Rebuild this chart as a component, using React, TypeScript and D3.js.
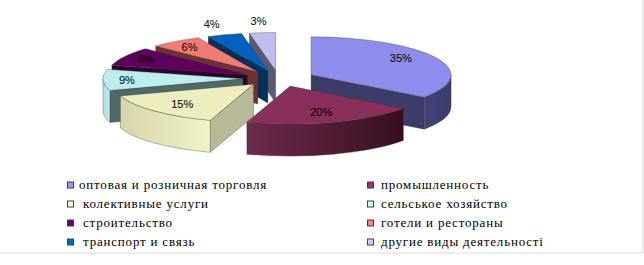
import React from 'react';
import * as d3 from 'd3';

const categories = [
  'оптовая и розничная торговля',
  'промышленность',
  'колективные услуги',
  'сельськое хозяйство',
  'строительство',
  'готели и рестораны',
  'транспорт и связь',
  'другие виды деятельності',
];
const values = [35, 20, 15, 9, 8, 6, 4, 3];
const valueLabels = ['35%', '20%', '15%', '9%', '8%', '6%', '4%', '3%'];

const baseColors = ['#9999FF', '#993366', '#FFFFCC', '#CCFFFF', '#660066', '#FF8080', '#0066CC', '#CCCCFF'];
const topColors = ['#8d8ded', '#8a2e5c', '#ededbd', '#bdeded', '#5c005c', '#f07a74', '#0060c0', '#bdbdef'];
const sideLeft = ['#42427a', '#6e2a4c', '#d6d6a8', '#ade0e0', '#3a003a', '#7a3a36', '#00386c', '#60607a'];
const sideRight = ['#3c3c6c', '#360f1f', '#f2f2c8', '#bdeaea', '#2c002c', '#6a3030', '#002c58', '#55556c'];
const faceColors = ['#3c3c6a', '#401428', '#b9b998', '#516868', '#2e002e', '#6e3030', '#00305e', '#5a5a72'];

const W = 644;
const H = 265;
const CX = 279;
const CY = 78.5;
const RX = 140;
const RY = 38;
const DEPTH = 32;
const EX = 36;
const EY = 8;

export default function App() {
  const arcs = d3.pie<number>().sort(null).value((d) => d)(values);

  const slices = arcs.map((a, i) => {
    const a0 = a.startAngle;
    const a1 = a.endAngle;
    const mid = (a0 + a1) / 2;
    const ox = CX + EX * Math.sin(mid);
    const oy = CY - EY * Math.cos(mid);
    const pt = (t: number, z = 0): [number, number] => [ox + RX * Math.sin(t), oy - RY * Math.cos(t) + z];
    const f = (p: [number, number]) => `${p[0].toFixed(2)},${p[1].toFixed(2)}`;
    const large = (s: number, e: number) => (e - s > Math.PI ? 1 : 0);

    const top = `M${f([ox, oy])}L${f(pt(a0))}A${RX},${RY} 0 ${large(a0, a1)} 1 ${f(pt(a1))}Z`;

    const faces: { d: string; fill: string }[] = [];
    if (Math.sin(a0) < -1e-6) {
      faces.push({
        d: `M${f([ox, oy])}L${f(pt(a0))}L${f(pt(a0, DEPTH))}L${f([ox, oy + DEPTH])}Z`,
        fill: faceColors[i],
      });
    }
    if (Math.sin(a1) > 1e-6) {
      faces.push({
        d: `M${f([ox, oy])}L${f(pt(a1))}L${f(pt(a1, DEPTH))}L${f([ox, oy + DEPTH])}Z`,
        fill: faceColors[i],
      });
    }
    let outer: string | null = null;
    const s = Math.max(a0, Math.PI / 2);
    const e = Math.min(a1, (3 * Math.PI) / 2);
    if (e > s + 1e-6) {
      outer = `M${f(pt(s))}A${RX},${RY} 0 ${large(s, e)} 1 ${f(pt(e))}L${f(pt(e, DEPTH))}A${RX},${RY} 0 ${large(s, e)} 0 ${f(pt(s, DEPTH))}Z`;
    }
    const v = values[i];
    const lf = v >= 15 ? 0.72 : v >= 6 ? 0.83 : 1.3;
    const lfy = v >= 30 ? 1.0 : lf;
    const label: [number, number] = [ox + lf * RX * Math.sin(mid), oy - lfy * RY * Math.cos(mid)];
    const depthKey = oy - 0.5 * RY * Math.cos(mid);
    return { i, top, faces, outer, label, depthKey };
  });

  const ordered = [...slices].sort((p, q) => p.depthKey - q.depthKey);

  const rowY = d3.scaleLinear().domain([0, 3]).range([188.5, 245.5]);
  const colX = d3.scaleOrdinal<number, number>().domain([0, 1]).range([67, 367]);

  const stroke = '#3a3a3a';

  return (
    <svg
      width={W}
      height={H}
      viewBox={`0 0 ${W} ${H}`}
      style={{ position: 'absolute', left: 0, top: 0, display: 'block', background: '#fff' }}
    >
      <defs>
        {slices.map((s) => (
          <linearGradient key={s.i} id={`side${s.i}`} x1="0" x2="1" y1="0" y2="0">
            <stop offset="0%" stopColor={sideLeft[s.i]} />
            <stop offset="100%" stopColor={sideRight[s.i]} />
          </linearGradient>
        ))}
      </defs>
      <rect x={0} y={0} width={W} height={H} fill="#fff" />
      <line x1={643} y1={0} x2={643} y2={253} stroke="#dcdcdc" strokeWidth={1.2} />
      <line x1={0} y1={253} x2={643.6} y2={253} stroke="#dcdcdc" strokeWidth={1.2} />

      {ordered.map((s) => (
        <g key={s.i}>
          {s.faces.map((fc, k) => (
            <path key={k} d={fc.d} fill={fc.fill} stroke={stroke} strokeWidth={0.5} strokeOpacity={0.7} />
          ))}
          {s.outer && (
            <path d={s.outer} fill={`url(#side${s.i})`} stroke={stroke} strokeWidth={0.5} strokeOpacity={0.7} />
          )}
          <path d={s.top} fill={topColors[s.i]} stroke={stroke} strokeWidth={0.5} strokeOpacity={0.7} />
        </g>
      ))}

      {slices.map((s) => (
        <text
          key={s.i}
          x={s.label[0]}
          y={s.label[1]}
          textAnchor="middle"
          dominantBaseline="central"
          fontFamily="'Liberation Sans', Arial, sans-serif"
          fontSize={11}
          fill="#000"
        >
          {valueLabels[s.i]}
        </text>
      ))}

      {categories.map((c, i) => {
        const col = i % 2;
        const row = Math.floor(i / 2);
        const mx = colX(col);
        const y = rowY(row);
        const tx = mx + (col === 1 ? 14 : row === 0 ? 12 : 16);
        return (
          <g key={i}>
            <rect x={mx + 0.5} y={y - 6.5} width={6} height={6} fill={baseColors[i]} stroke="#404040" strokeWidth={1} />
            <text
              x={tx}
              y={y}
              fontFamily="'Liberation Serif', 'Times New Roman', serif"
              fontSize={13}
              letterSpacing={0.8}
              fill="#000"
            >
              {c}
            </text>
          </g>
        );
      })}
    </svg>
  );
}
